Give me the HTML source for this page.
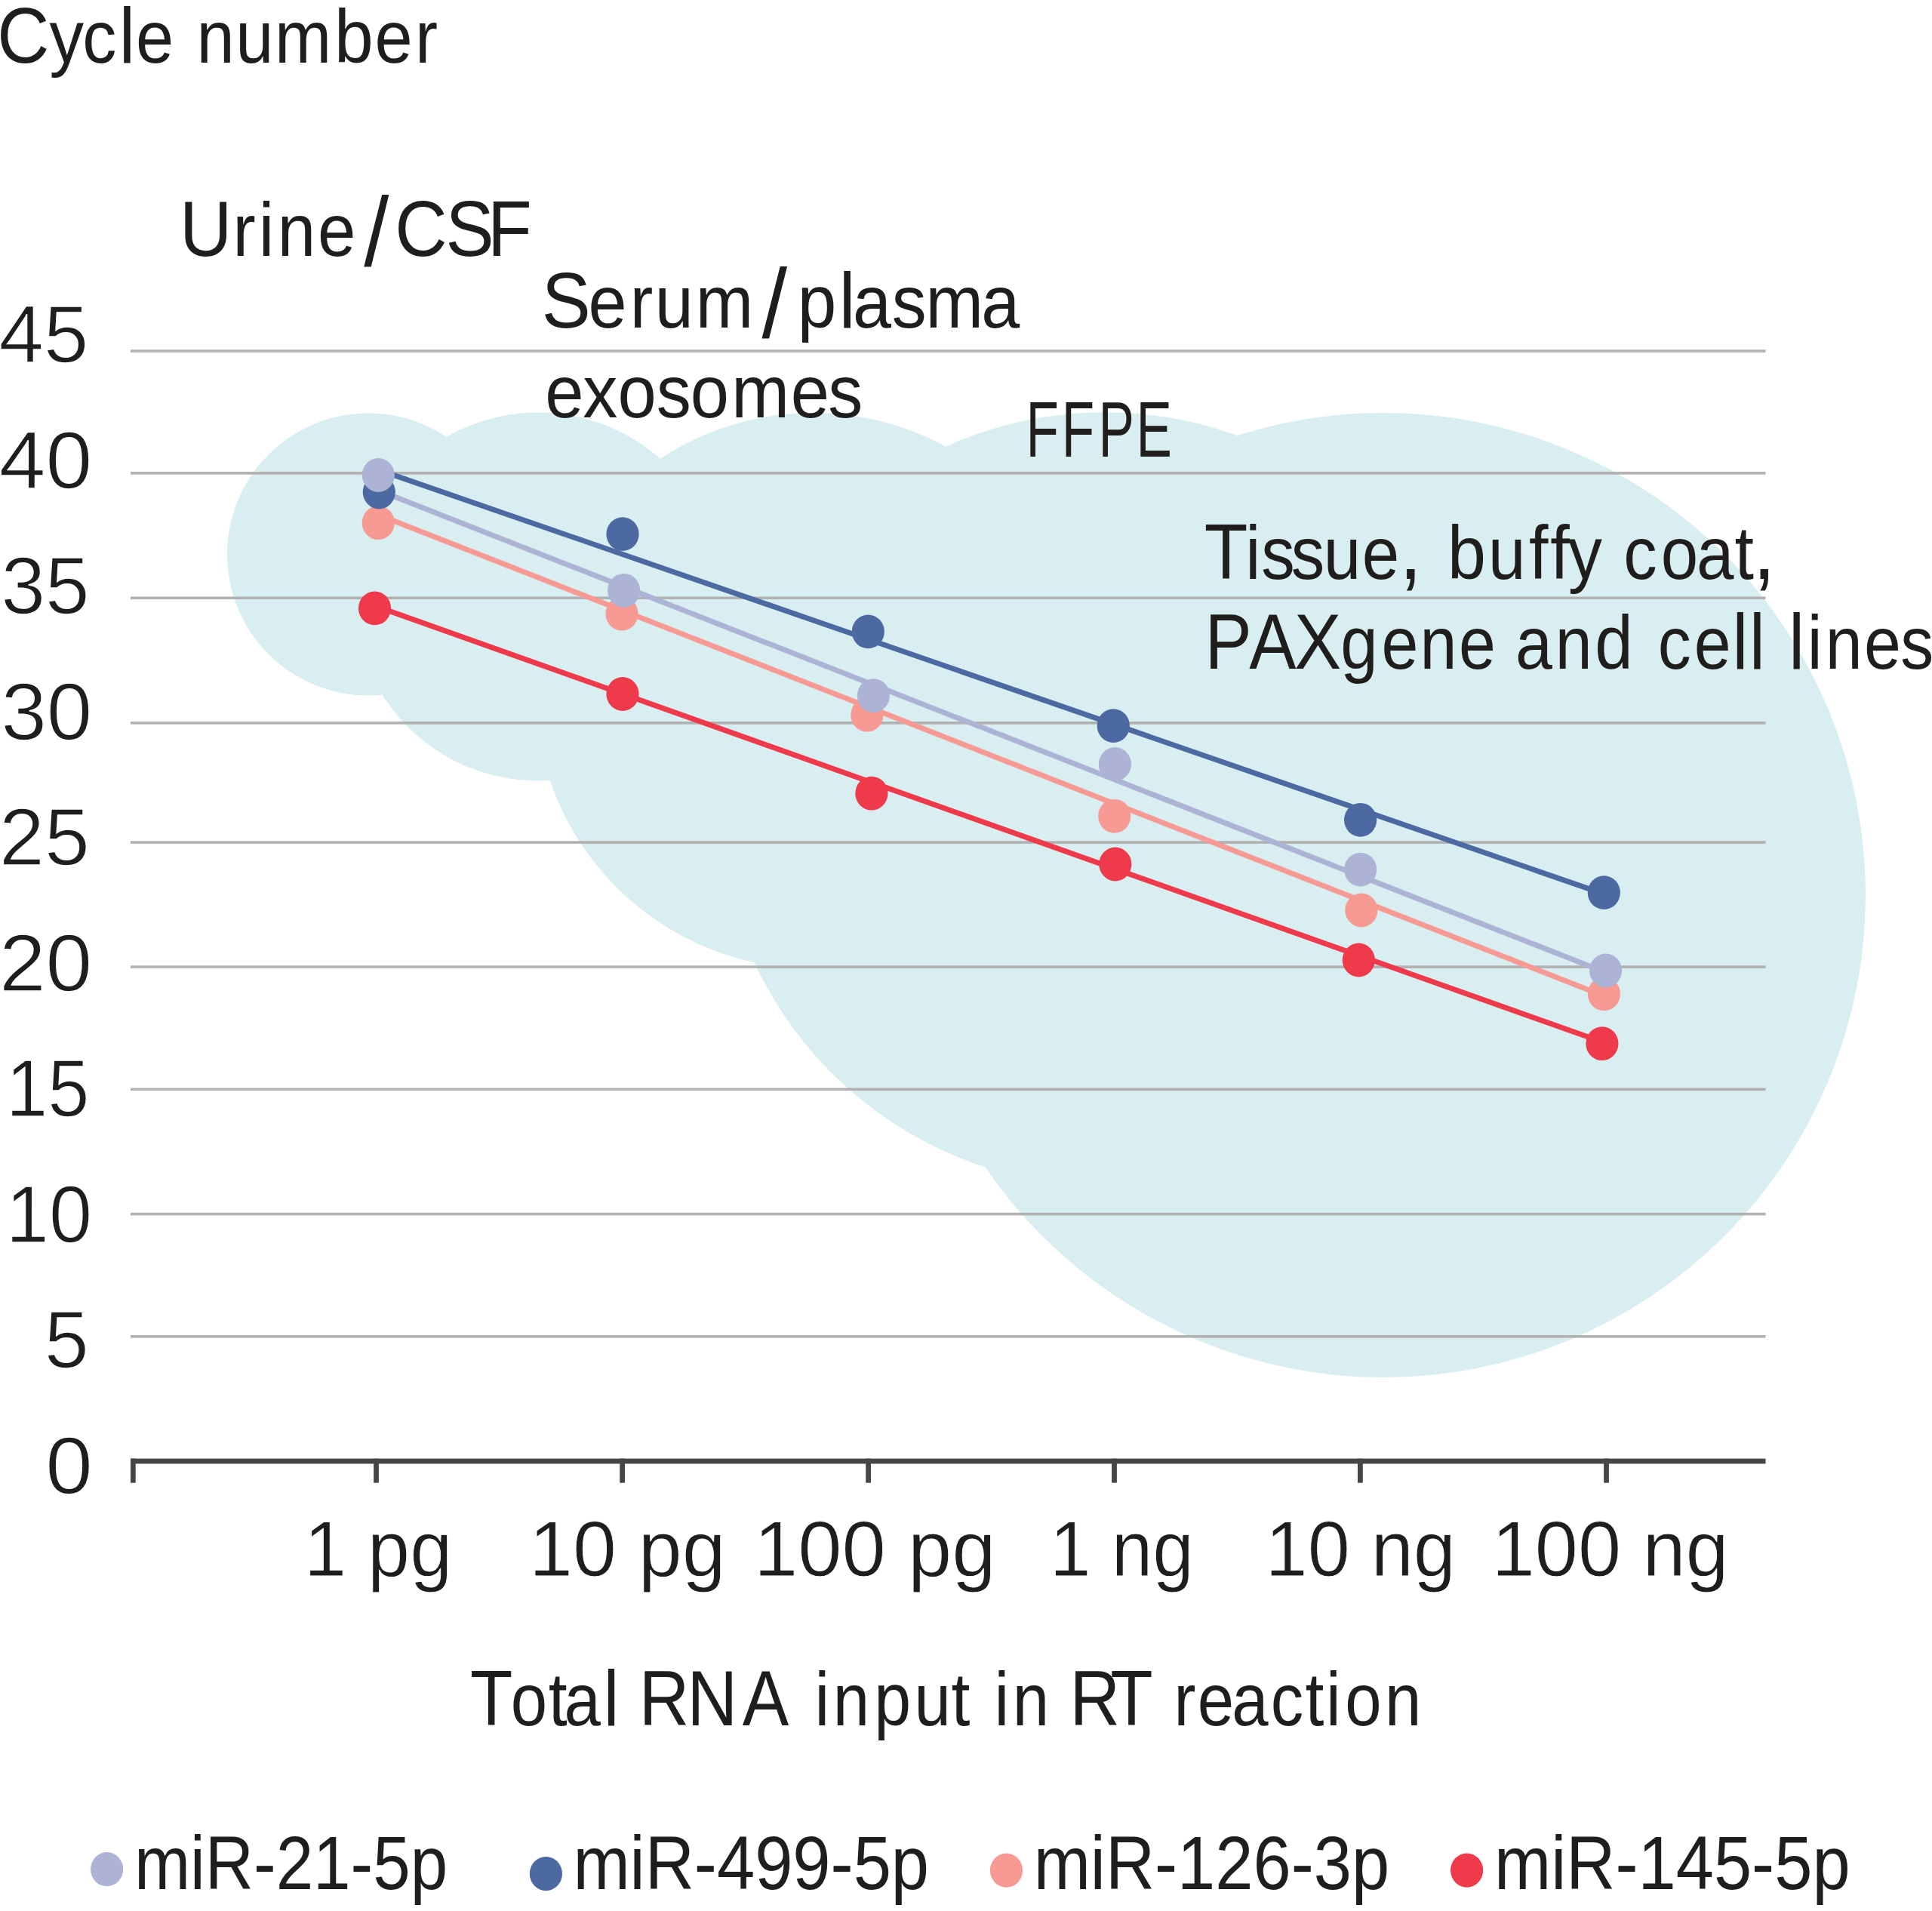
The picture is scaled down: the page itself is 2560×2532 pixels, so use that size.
<!DOCTYPE html>
<html lang="en"><head><meta charset="utf-8"><title>Cycle number vs. total RNA input in RT reaction</title>
<style>html,body{margin:0;padding:0;background:#fff;overflow:hidden;}svg{display:block;}text{font-family:"Liberation Sans",Arial,sans-serif;fill:#1f1e1c;font-kerning:none;}</style></head><body>
<svg width="2560" height="2532" viewBox="0 0 2560 2532">
<rect width="2560" height="2532" fill="#fff"/>
<g fill="#d9eef1"><circle cx="488" cy="734.5" r="187"/><circle cx="713" cy="790.5" r="244"/><circle cx="1077.4" cy="915.3" r="368.3"/><circle cx="1464.2" cy="1058.9" r="512.7"/><circle cx="1833" cy="1186" r="639"/></g>
<g fill="#b1b1b1"><rect x="173" y="463.3" width="2166.5" height="3.6"/><rect x="173" y="625.1" width="2166.5" height="3.6"/><rect x="173" y="790.5" width="2166.5" height="3.6"/><rect x="173" y="956.1" width="2166.5" height="3.6"/><rect x="173" y="1114.3" width="2166.5" height="3.6"/><rect x="173" y="1279.3" width="2166.5" height="3.6"/><rect x="173" y="1441.5" width="2166.5" height="3.6"/><rect x="173" y="1606.8" width="2166.5" height="3.6"/><rect x="173" y="1769.0" width="2166.5" height="3.6"/></g>
<g fill="#464646"><rect x="173" y="1932.6" width="2166.5" height="6.8"/><rect x="173" y="1932.6" width="6.7" height="32.1"/><rect x="495.1" y="1932.6" width="6.8" height="32.1"/><rect x="821.2" y="1932.6" width="6.8" height="32.1"/><rect x="1147.2" y="1932.6" width="6.8" height="32.1"/><rect x="1473.1" y="1932.6" width="6.8" height="32.1"/><rect x="1799.0" y="1932.6" width="6.8" height="32.1"/><rect x="2125.1" y="1932.6" width="6.8" height="32.1"/></g>
<line x1="501" y1="622.3" x2="2125" y2="1184.4" stroke="#4c69a2" stroke-width="7"/>
<line x1="501" y1="649.6" x2="2125" y2="1287.4" stroke="#adb3d5" stroke-width="7"/>
<line x1="501" y1="681.9" x2="2125" y2="1319.4" stroke="#f69a93" stroke-width="7"/>
<line x1="501" y1="804.3" x2="2125" y2="1381.3" stroke="#ee3a4b" stroke-width="7"/>
<g fill="#ee3a4b"><ellipse cx="496.5" cy="805.9" rx="21.6" ry="22.4"/><ellipse cx="825" cy="919.5" rx="21.6" ry="22.4"/><ellipse cx="1154.9" cy="1051.2" rx="21.6" ry="22.4"/><ellipse cx="1477.8" cy="1145" rx="21.6" ry="22.4"/><ellipse cx="1800.3" cy="1272" rx="21.6" ry="22.4"/><ellipse cx="2122.9" cy="1382.7" rx="21.6" ry="22.4"/></g>
<g fill="#f69a93"><ellipse cx="501.3" cy="692.7" rx="21.6" ry="22.4"/><ellipse cx="824" cy="813.2" rx="21.6" ry="22.4"/><ellipse cx="1148.9" cy="947.2" rx="21.6" ry="22.4"/><ellipse cx="1476.7" cy="1081.3" rx="21.6" ry="22.4"/><ellipse cx="1803.9" cy="1206" rx="21.6" ry="22.4"/><ellipse cx="2125.4" cy="1316.9" rx="21.6" ry="22.4"/></g>
<g fill="#4c69a2"><ellipse cx="502.3" cy="652" rx="21.6" ry="22.4"/><ellipse cx="825" cy="707.6" rx="21.6" ry="22.4"/><ellipse cx="1150.3" cy="836.9" rx="21.6" ry="22.4"/><ellipse cx="1475.3" cy="961.6" rx="21.6" ry="22.4"/><ellipse cx="1802.6" cy="1086.3" rx="21.6" ry="22.4"/><ellipse cx="2125.3" cy="1182.6" rx="21.6" ry="22.4"/></g>
<g fill="#adb3d5"><ellipse cx="501.3" cy="629.5" rx="21.6" ry="22.4"/><ellipse cx="826.6" cy="782.3" rx="21.6" ry="22.4"/><ellipse cx="1157.4" cy="921.7" rx="21.6" ry="22.4"/><ellipse cx="1477.4" cy="1012.5" rx="21.6" ry="22.4"/><ellipse cx="1802.7" cy="1152.1" rx="21.6" ry="22.4"/><ellipse cx="2127.6" cy="1286" rx="21.6" ry="22.4"/></g>
<ellipse cx="141.6" cy="2476.7" rx="21.6" ry="22.6" fill="#adb3d5"/><ellipse cx="723.4" cy="2482.6" rx="21.6" ry="22.6" fill="#4c69a2"/><ellipse cx="1333.5" cy="2478.2" rx="21.6" ry="22.6" fill="#f69a93"/><ellipse cx="1943.6" cy="2478.1" rx="21.6" ry="22.6" fill="#ee3a4b"/>
<g><text transform="scale(0.9208,1)"><tspan x="-4.1" y="82.6" font-size="104">C</tspan><tspan x="71.1" y="82.6" font-size="99">y</tspan><tspan x="118.6" y="82.6" font-size="98">c</tspan><tspan x="171.2" y="82.6" font-size="104">l</tspan><tspan x="195.4" y="82.6" font-size="98">e</tspan><tspan x="249.9" y="82.6" font-size="100"> </tspan><tspan x="282.9 339.2 395.3" y="82.6" font-size="98">num</tspan><tspan x="481.0" y="82.6" font-size="101">b</tspan><tspan x="539.2 597.2" y="82.6" font-size="98">er</tspan></text><text transform="scale(0.9246,1)"><tspan x="257.5" y="338.8" font-size="104">U</tspan><tspan x="333.6" y="338.8" font-size="98">r</tspan><tspan x="370.7" y="338.8" font-size="100">i</tspan><tspan x="397.8 455.4" y="338.8" font-size="98">ne</tspan><tspan x="521.5" y="351.8" font-size="129">/</tspan><tspan x="565.8 638.7 698.7" y="338.8" font-size="104">CSF</tspan></text><text transform="scale(0.9362,1)"><tspan x="766.7" y="434.3" font-size="104">S</tspan><tspan x="832.6 891.7 926.9 984.5" y="434.3" font-size="98">erum</tspan><tspan x="1078.2" y="447.3" font-size="129">/</tspan><tspan x="1128.7" y="434.3" font-size="99">p</tspan><tspan x="1187.6" y="434.3" font-size="104">l</tspan><tspan x="1207.0 1262.2 1310.1 1388.8" y="434.3" font-size="98">asma</tspan></text><text transform="scale(0.9404,1)"><tspan x="768.1 821.1 870.4 924.8 972.7 1030.6 1114.1 1166.7" y="553.0" font-size="98">exosomes</tspan></text><text transform="scale(0.6834,1)"><tspan x="1989.5 2058.4 2129.7 2202.8" y="604.7" font-size="104">FFPE</tspan></text><text transform="scale(0.9075,1)"><tspan x="1758.5" y="767.5" font-size="104">T</tspan><tspan x="1818.5" y="767.5" font-size="100">i</tspan><tspan x="1841.5 1885.2 1932.4 1988.8" y="767.5" font-size="98">ssue</tspan><tspan x="2042.9" y="767.5" font-size="120">,</tspan><tspan x="2076.2" y="767.5" font-size="100"> </tspan><tspan x="2113.5" y="767.5" font-size="101">b</tspan><tspan x="2173.0" y="767.5" font-size="98">u</tspan><tspan x="2232.6 2263.6" y="767.5" font-size="101">ff</tspan><tspan x="2289.8" y="767.5" font-size="99">y</tspan><tspan x="2339.3" y="767.5" font-size="100"> </tspan><tspan x="2370.6 2425.2 2477.2" y="767.5" font-size="98">coa</tspan><tspan x="2532.9" y="767.5" font-size="101">t</tspan><tspan x="2559.2" y="767.5" font-size="120">,</tspan></text><text transform="scale(0.8978,1)"><tspan x="1778.2 1843.8 1910.3" y="885.7" font-size="104">PAX</tspan><tspan x="1978.4" y="885.7" font-size="99">g</tspan><tspan x="2039.0 2095.8 2153.0" y="885.7" font-size="98">ene</tspan><tspan x="2207.5" y="885.7" font-size="100"> </tspan><tspan x="2236.6 2295.4" y="885.7" font-size="98">an</tspan><tspan x="2353.9" y="885.7" font-size="101">d</tspan><tspan x="2410.1" y="885.7" font-size="100"> </tspan><tspan x="2446.7 2500.3" y="885.7" font-size="98">ce</tspan><tspan x="2556.7 2582.0" y="885.7" font-size="104">ll</tspan><tspan x="2605.1" y="885.7" font-size="100"> </tspan><tspan x="2640.1" y="885.7" font-size="104">l</tspan><tspan x="2667.4" y="885.7" font-size="100">i</tspan><tspan x="2694.2 2751.3 2804.8" y="885.7" font-size="98">nes</tspan></text><text x="403.1" y="2088.3" font-size="104" textLength="196.1" lengthAdjust="spacingAndGlyphs" stroke="#fff" stroke-width="0.9">1 pg</text><text x="701.1" y="2088.3" font-size="104" textLength="260.5" lengthAdjust="spacingAndGlyphs" stroke="#fff" stroke-width="0.9">10 pg</text><text x="999.0" y="2088.3" font-size="104" textLength="320.4" lengthAdjust="spacingAndGlyphs" stroke="#fff" stroke-width="0.9">100 pg</text><text x="1391.1" y="2088.3" font-size="104" textLength="190.7" lengthAdjust="spacingAndGlyphs" stroke="#fff" stroke-width="0.9">1 ng</text><text x="1676.6" y="2088.3" font-size="104" textLength="252.3" lengthAdjust="spacingAndGlyphs" stroke="#fff" stroke-width="0.9">10 ng</text><text x="1976.7" y="2088.3" font-size="104" textLength="314.0" lengthAdjust="spacingAndGlyphs" stroke="#fff" stroke-width="0.9">100 ng</text><text transform="scale(0.8872,1)"><tspan x="702.1" y="2286.4" font-size="104">T</tspan><tspan x="762.7" y="2286.4" font-size="98">o</tspan><tspan x="819.1" y="2286.4" font-size="101">t</tspan><tspan x="842.5" y="2286.4" font-size="98">a</tspan><tspan x="901.3" y="2286.4" font-size="104">l</tspan><tspan x="924.5" y="2286.4" font-size="100"> </tspan><tspan x="954.5 1026.4 1108.9" y="2286.4" font-size="104">RNA</tspan><tspan x="1178.3 1216.8" y="2286.4" font-size="100"> i</tspan><tspan x="1244.1" y="2286.4" font-size="98">n</tspan><tspan x="1305.4" y="2286.4" font-size="99">p</tspan><tspan x="1365.6" y="2286.4" font-size="98">u</tspan><tspan x="1420.8" y="2286.4" font-size="101">t</tspan><tspan x="1448.9 1485.1" y="2286.4" font-size="100"> i</tspan><tspan x="1512.4" y="2286.4" font-size="98">n</tspan><tspan x="1566.9" y="2286.4" font-size="100"> </tspan><tspan x="1597.7 1658.3" y="2286.4" font-size="104">RT</tspan><tspan x="1721.8" y="2286.4" font-size="100"> </tspan><tspan x="1753.2 1788.5 1839.9 1897.7" y="2286.4" font-size="98">reac</tspan><tspan x="1949.5" y="2286.4" font-size="101">t</tspan><tspan x="1980.5" y="2286.4" font-size="100">i</tspan><tspan x="2009.0 2068.4" y="2286.4" font-size="98">on</tspan></text><text x="178.0" y="2503.0" font-size="100" textLength="415.1" lengthAdjust="spacingAndGlyphs">miR-21-5p</text><text x="759.4" y="2503.0" font-size="100" textLength="471.7" lengthAdjust="spacingAndGlyphs">miR-499-5p</text><text x="1369.7" y="2503.0" font-size="100" textLength="471.4" lengthAdjust="spacingAndGlyphs">miR-126-3p</text><text x="1980.0" y="2503.0" font-size="100" textLength="471.6" lengthAdjust="spacingAndGlyphs">miR-145-5p</text><text x="-1.4" y="480.0" font-size="108" textLength="118.7" lengthAdjust="spacingAndGlyphs" stroke="#fff" stroke-width="1.4">45</text><text x="-1.2" y="646.5" font-size="108" textLength="123.6" lengthAdjust="spacingAndGlyphs" stroke="#fff" stroke-width="1.4">40</text><text x="1.5" y="813.1" font-size="108" textLength="117.2" lengthAdjust="spacingAndGlyphs" stroke="#fff" stroke-width="1.4">35</text><text x="1.4" y="979.6" font-size="108" textLength="120.9" lengthAdjust="spacingAndGlyphs" stroke="#fff" stroke-width="1.4">30</text><text x="-0.9" y="1146.2" font-size="108" textLength="119.7" lengthAdjust="spacingAndGlyphs" stroke="#fff" stroke-width="1.4">25</text><text x="-1.1" y="1312.7" font-size="108" textLength="123.4" lengthAdjust="spacingAndGlyphs" stroke="#fff" stroke-width="1.4">20</text><text x="8.0" y="1479.2" font-size="108" textLength="110.4" lengthAdjust="spacingAndGlyphs" stroke="#fff" stroke-width="1.4">15</text><text x="7.8" y="1645.8" font-size="108" textLength="114.2" lengthAdjust="spacingAndGlyphs" stroke="#fff" stroke-width="1.4">10</text><text x="58.8" y="1812.3" font-size="108" textLength="59.1" lengthAdjust="spacingAndGlyphs" stroke="#fff" stroke-width="1.4">5</text><text x="60.2" y="1978.9" font-size="108" textLength="62.6" lengthAdjust="spacingAndGlyphs" stroke="#fff" stroke-width="1.4">0</text></g>
</svg></body></html>
